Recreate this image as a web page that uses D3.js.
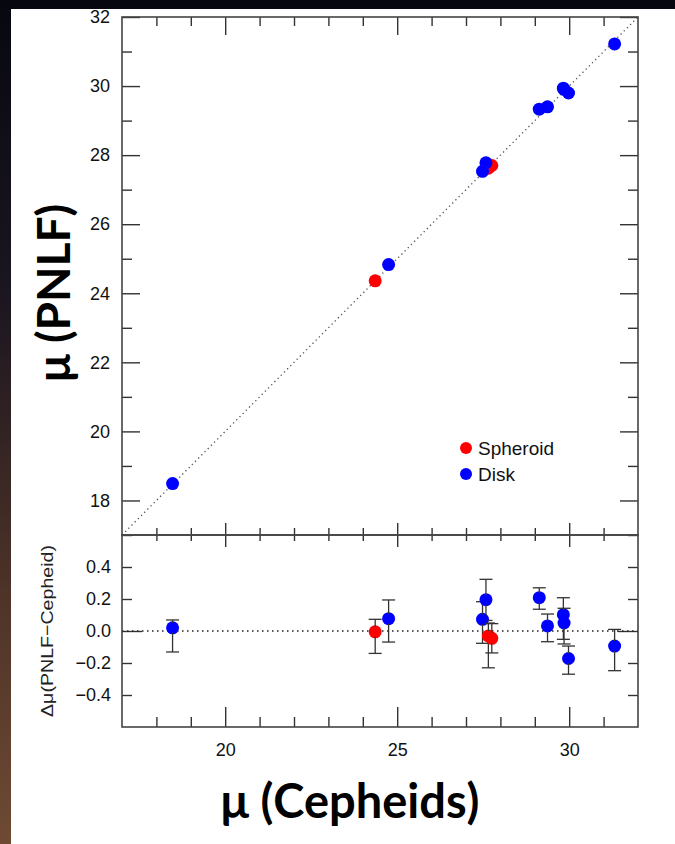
<!DOCTYPE html>
<html>
<head>
<meta charset="utf-8">
<script src="https://cdn.jsdelivr.net/npm/d3@7"></script>
<style>
  html, body { margin: 0; padding: 0; background: #000; }
  svg { display: block; }
</style>
</head>
<body>
<svg id="chart" width="675" height="844"></svg>
<script>
// ---------------- data ----------------
const galaxyTypes = ["Disk","Spheroid","Disk","Disk","Disk","Spheroid","Spheroid","Disk","Disk","Disk","Disk","Disk","Disk"];
const muCepheid   = [18.47, 24.36, 24.75, 27.48, 27.58, 27.65, 27.75, 29.13, 29.37, 29.83, 29.85, 29.98, 31.32];
const muPNLF      = [18.49, 24.36, 24.83, 27.53, 27.78, 27.62, 27.70, 29.33, 29.40, 29.94, 29.90, 29.80, 31.22];
const deltaMu     = [0.020, -0.005, 0.077, 0.073, 0.196, -0.031, -0.046, 0.208, 0.032, 0.102, 0.050, -0.172, -0.094];
const deltaLow    = [-0.131, -0.140, -0.069, -0.077, 0.066, -0.230, -0.137, 0.136, -0.067, -0.052, -0.081, -0.270, -0.248];
const deltaHigh   = [0.069, 0.073, 0.194, 0.183, 0.323, 0.050, 0.046, 0.270, 0.106, 0.208, 0.142, -0.094, 0.010];

const xDomain = [17, 32];
const yTopDomain = [17, 32];
const yBotDomain = [-0.6, 0.6];
const xMajorTicks = [20, 25, 30];
const xMinorTicks = [18, 19, 21, 22, 23, 24, 26, 27, 28, 29, 31];
const yTopMajorTicks = [18, 20, 22, 24, 26, 28, 30, 32];
const yTopMinorTicks = [17, 19, 21, 23, 25, 27, 29, 31];
const yBotTickLabels = [0.4, 0.2, 0.0, -0.2, -0.4];
const yBotMinorTicks = [0.4, 0.2, -0.2, -0.4];
const yBotMajorTicks = [0.0];
const legendItems = ["Spheroid", "Disk"];
const typeColors = { Spheroid: "#ff0000", Disk: "#0000ff" };

const points = muCepheid.map((d, i) => ({
  type: galaxyTypes[i], cep: d, pnlf: muPNLF[i], dmu: deltaMu[i], lo: deltaLow[i], hi: deltaHigh[i]
}));
// spheroids are drawn underneath the disks in the upper panel
const topOrder = points.filter(p => p.type === "Spheroid").concat(points.filter(p => p.type === "Disk"));

// ---------------- layout ----------------
const svg = d3.select("#chart");
const W = 675, H = 844;
const L = 122, R = 638, T = 17, SEP = 535, B = 727;

// background: dark photo strip + white page
const grad = svg.append("defs").append("linearGradient")
  .attr("id", "bg").attr("x1", 0).attr("y1", 0).attr("x2", 0).attr("y2", 1);
grad.append("stop").attr("offset", "0%").attr("stop-color", "#07080f");
grad.append("stop").attr("offset", "35%").attr("stop-color", "#1b1620");
grad.append("stop").attr("offset", "70%").attr("stop-color", "#4d3328");
grad.append("stop").attr("offset", "100%").attr("stop-color", "#6e4a33");
svg.append("rect").attr("width", W).attr("height", H).attr("fill", "url(#bg)");
svg.append("rect").attr("x", 11).attr("y", 9).attr("width", W - 11).attr("height", H - 9).attr("fill", "#ffffff");

const x = d3.scaleLinear().domain(xDomain).range([L, R]);
const yTop = d3.scaleLinear().domain(yTopDomain).range([SEP, T]);
const yBot = d3.scaleLinear().domain(yBotDomain).range([B, SEP]);

const tickColor = "#333";
const labelFont = "'Liberation Sans', Arial, Helvetica, sans-serif";

function tickAxis(axis, tr) {
  const g = svg.append("g").attr("transform", tr).call(axis);
  g.select(".domain").remove();
  g.selectAll(".tick line").attr("stroke", tickColor).attr("stroke-width", 1.4);
  g.selectAll(".tick text").remove();
  return g;
}
function labelAxis(axis, tr, size) {
  const g = svg.append("g").attr("transform", tr).call(axis);
  g.select(".domain").remove();
  g.selectAll(".tick line").remove();
  g.selectAll(".tick text").attr("font-family", labelFont).attr("font-size", size).attr("fill", "#111");
  return g;
}

// ---- top panel ticks ----
tickAxis(d3.axisLeft(yTop).tickValues(yTopMajorTicks).tickSize(-18).tickFormat(""), `translate(${L},0)`);
tickAxis(d3.axisLeft(yTop).tickValues(yTopMinorTicks).tickSize(-10).tickFormat(""), `translate(${L},0)`);
tickAxis(d3.axisRight(yTop).tickValues(yTopMajorTicks).tickSize(-18).tickFormat(""), `translate(${R},0)`);
tickAxis(d3.axisRight(yTop).tickValues(yTopMinorTicks).tickSize(-10).tickFormat(""), `translate(${R},0)`);
tickAxis(d3.axisTop(x).tickValues(xMajorTicks).tickSize(-18).tickFormat(""), `translate(0,${T})`);
tickAxis(d3.axisTop(x).tickValues(xMinorTicks).tickSize(-9).tickFormat(""), `translate(0,${T})`);
tickAxis(d3.axisBottom(x).tickValues(xMajorTicks).tickSize(-12).tickFormat(""), `translate(0,${SEP})`);
tickAxis(d3.axisBottom(x).tickValues(xMinorTicks).tickSize(-7).tickFormat(""), `translate(0,${SEP})`);
labelAxis(d3.axisLeft(yTop).tickValues(yTopMajorTicks).tickSize(0).tickPadding(12).tickFormat(d3.format("d")), `translate(${L},0)`, 18);

// ---- bottom panel ticks ----
tickAxis(d3.axisTop(x).tickValues(xMajorTicks).tickSize(-12).tickFormat(""), `translate(0,${SEP})`);
tickAxis(d3.axisTop(x).tickValues(xMinorTicks).tickSize(-6).tickFormat(""), `translate(0,${SEP})`);
tickAxis(d3.axisBottom(x).tickValues(xMajorTicks).tickSize(-20).tickFormat(""), `translate(0,${B})`);
tickAxis(d3.axisBottom(x).tickValues(xMinorTicks).tickSize(-10).tickFormat(""), `translate(0,${B})`);
tickAxis(d3.axisLeft(yBot).tickValues(yBotMinorTicks).tickSize(-10).tickFormat(""), `translate(${L},0)`);
tickAxis(d3.axisLeft(yBot).tickValues(yBotMajorTicks).tickSize(-20).tickFormat(""), `translate(${L},0)`);
tickAxis(d3.axisRight(yBot).tickValues(yBotMinorTicks).tickSize(-10).tickFormat(""), `translate(${R},0)`);
tickAxis(d3.axisRight(yBot).tickValues(yBotMajorTicks).tickSize(-20).tickFormat(""), `translate(${R},0)`);
labelAxis(d3.axisLeft(yBot).tickValues(yBotTickLabels).tickSize(0).tickPadding(11).tickFormat(d3.format(".1f")), `translate(${L},0)`, 18);
labelAxis(d3.axisBottom(x).tickValues(xMajorTicks).tickSize(0).tickPadding(16).tickFormat(d3.format("d")), `translate(0,${B})`, 18);

// ---- reference lines ----
svg.append("line")
  .attr("x1", x(xDomain[0])).attr("y1", yTop(xDomain[0]))
  .attr("x2", x(xDomain[1])).attr("y2", yTop(xDomain[1]))
  .attr("stroke", "#555").attr("stroke-width", 1.3).attr("stroke-dasharray", "1.3,3.2");
svg.append("line")
  .attr("x1", L).attr("y1", yBot(0)).attr("x2", R).attr("y2", yBot(0))
  .attr("stroke", "#222").attr("stroke-width", 1.4).attr("stroke-dasharray", "1.5,3.5");

// ---- frames ----
svg.append("rect").attr("x", L).attr("y", T).attr("width", R - L).attr("height", SEP - T)
  .attr("fill", "none").attr("stroke", "#444").attr("stroke-width", 1.6);
svg.append("rect").attr("x", L).attr("y", SEP).attr("width", R - L).attr("height", B - SEP)
  .attr("fill", "none").attr("stroke", "#444").attr("stroke-width", 1.6);

// ---- top panel points ----
svg.append("g").selectAll("circle").data(topOrder).join("circle")
  .attr("cx", d => x(d.cep)).attr("cy", d => yTop(d.pnlf)).attr("r", 6.5)
  .attr("fill", d => typeColors[d.type]);

// ---- bottom panel error bars + points ----
const capW = 6.5;
const eb = svg.append("g").selectAll("g").data(points).join("g");
eb.append("circle")
  .attr("cx", d => x(d.cep)).attr("cy", d => yBot(d.dmu)).attr("r", 6.5)
  .attr("fill", d => typeColors[d.type]);
eb.append("line")
  .attr("x1", d => x(d.cep)).attr("x2", d => x(d.cep))
  .attr("y1", d => yBot(d.lo)).attr("y2", d => yBot(d.hi))
  .attr("stroke", "#333").attr("stroke-width", 1.3);
eb.append("line")
  .attr("x1", d => x(d.cep) - capW).attr("x2", d => x(d.cep) + capW)
  .attr("y1", d => yBot(d.lo)).attr("y2", d => yBot(d.lo))
  .attr("stroke", "#333").attr("stroke-width", 1.3);
eb.append("line")
  .attr("x1", d => x(d.cep) - capW).attr("x2", d => x(d.cep) + capW)
  .attr("y1", d => yBot(d.hi)).attr("y2", d => yBot(d.hi))
  .attr("stroke", "#333").attr("stroke-width", 1.3);
// point centres sit over their own bar line
svg.append("g").selectAll("circle").data(points).join("circle")
  .attr("cx", d => x(d.cep)).attr("cy", d => yBot(d.dmu)).attr("r", 5)
  .attr("fill", d => typeColors[d.type]);

// ---- legend ----
const leg = svg.append("g").selectAll("g").data(legendItems).join("g")
  .attr("transform", (d, i) => `translate(466,${448 + i * 26})`);
leg.append("circle").attr("r", 6).attr("fill", d => typeColors[d]);
leg.append("text").attr("x", 12).attr("y", 7).text(d => d)
  .attr("font-family", labelFont).attr("font-size", 19).attr("fill", "#111");

// ---- axis titles ----
const titleFont = "Lato, 'Open Sans', 'DejaVu Sans', sans-serif";
svg.append("text").attr("x", 350).attr("y", 818).attr("text-anchor", "middle")
  .attr("font-family", titleFont).attr("font-weight", 700).attr("font-size", 47)
  .attr("fill", "#000").text("μ (Cepheids)");
svg.append("text").attr("transform", "translate(70,293) rotate(-90)").attr("text-anchor", "middle")
  .attr("font-family", titleFont).attr("font-weight", 700).attr("font-size", 46)
  .attr("fill", "#000").text("μ (PNLF)");
svg.append("text").attr("transform", "translate(53,631) rotate(-90)").attr("text-anchor", "middle")
  .attr("font-family", labelFont).attr("font-size", 17)
  .attr("textLength", 172).attr("lengthAdjust", "spacingAndGlyphs")
  .attr("fill", "#222").text("Δμ(PNLF−Cepheid)");
</script>
</body>
</html>
